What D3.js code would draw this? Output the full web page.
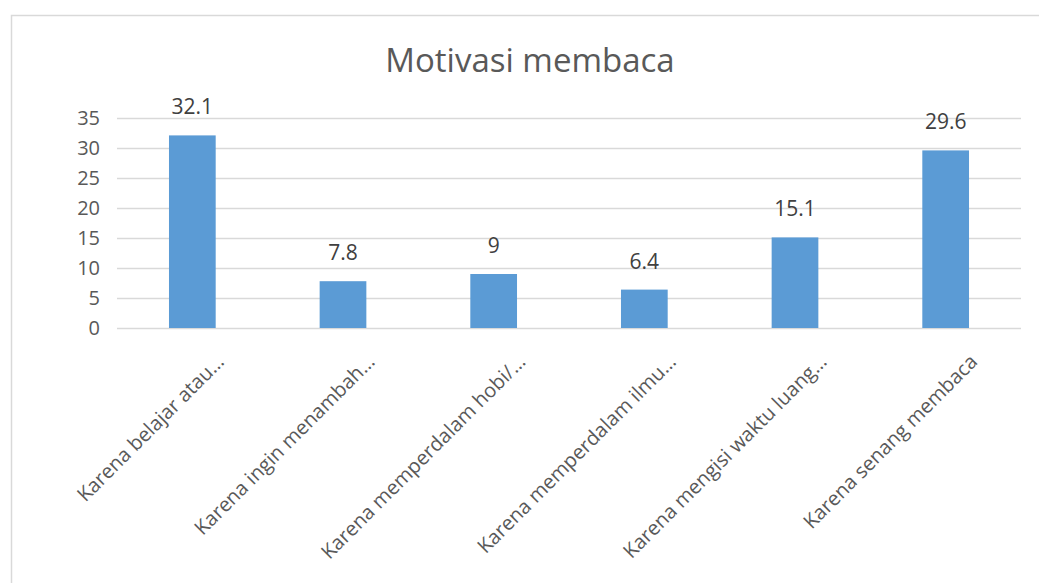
<!DOCTYPE html>
<html>
<head>
<meta charset="utf-8">
<script src="https://cdn.jsdelivr.net/npm/d3@7"></script>
<style>
  body { margin: 0; background: #fff; }
  svg { display: block; font-family: 'Open Sans', sans-serif; }
</style>
</head>
<body>
<div class="chart"></div>
<script>
const categories = [
  'Karena belajar atau…',
  'Karena ingin menambah…',
  'Karena memperdalam hobi/…',
  'Karena memperdalam ilmu…',
  'Karena mengisi waktu luang…',
  'Karena senang membaca'
]
const values = [32.1, 7.8, 9, 6.4, 15.1, 29.6]
const yTicks = [0, 5, 10, 15, 20, 25, 30, 35]
const title = 'Motivasi membaca'

const width = 1039
const height = 583
const plot = { left: 117, right: 1021, top: 118, bottom: 328 }

const svg = d3.select('.chart').append('svg')
  .attr('width', width)
  .attr('height', height)

// chart frame, runs off the right and bottom edges like the source
svg.append('rect')
  .attr('x', 11.5)
  .attr('y', 15.5)
  .attr('width', 1100)
  .attr('height', 700)
  .attr('fill', '#fff')
  .attr('stroke', '#d9d9d9')
  .attr('stroke-width', 1.5)

svg.append('text')
  .attr('x', 530)
  .attr('y', 72)
  .attr('text-anchor', 'middle')
  .style('font-size', '33px')
  .style('fill', '#595959')
  .text(title)

const x = d3.scaleBand()
  .domain(categories)
  .range([plot.left, plot.right])
  .paddingInner(0.69)
  .paddingOuter(0.345)

const y = d3.scaleLinear()
  .domain([0, 35])
  .range([plot.bottom, plot.top])

const yAxis = svg.append('g')
  .attr('transform', `translate(${plot.left}, 0)`)
  .call(d3.axisLeft(y).tickValues(yTicks).tickSize(-(plot.right - plot.left)).tickPadding(17))

yAxis.select('.domain').remove()
yAxis.selectAll('.tick line').attr('stroke', '#d9d9d9').attr('stroke-width', 1.5)
yAxis.selectAll('.tick text')
  .style('font-size', '20px')
  .style('fill', '#595959')
  .style('font-family', "'Open Sans', sans-serif")

svg.selectAll('.bar')
  .data(values)
  .enter()
  .append('rect')
  .attr('class', 'bar')
  .attr('x', (d, i) => x(categories[i]))
  .attr('y', d => y(d))
  .attr('width', x.bandwidth())
  .attr('height', d => y(0) - y(d))
  .attr('fill', '#5b9bd5')

svg.selectAll('.value')
  .data(values)
  .enter()
  .append('text')
  .attr('class', 'value')
  .attr('x', (d, i) => x(categories[i]) + x.bandwidth() / 2)
  .attr('y', d => y(d) - 21)
  .attr('text-anchor', 'middle')
  .style('font-size', '21px')
  .style('fill', '#404040')
  .text(d => d)

const xAxis = svg.append('g')
  .attr('transform', `translate(0, ${plot.bottom})`)
  .call(d3.axisBottom(x).tickSize(0).tickPadding(0))

xAxis.select('.domain').remove()
xAxis.selectAll('.tick text')
  .attr('text-anchor', 'end')
  .attr('dy', 0)
  .attr('transform', 'translate(33, 35) rotate(-45)')
  .style('font-size', '20px')
  .style('fill', '#595959')
  .style('font-family', "'Open Sans', sans-serif")
</script>
</body>
</html>
